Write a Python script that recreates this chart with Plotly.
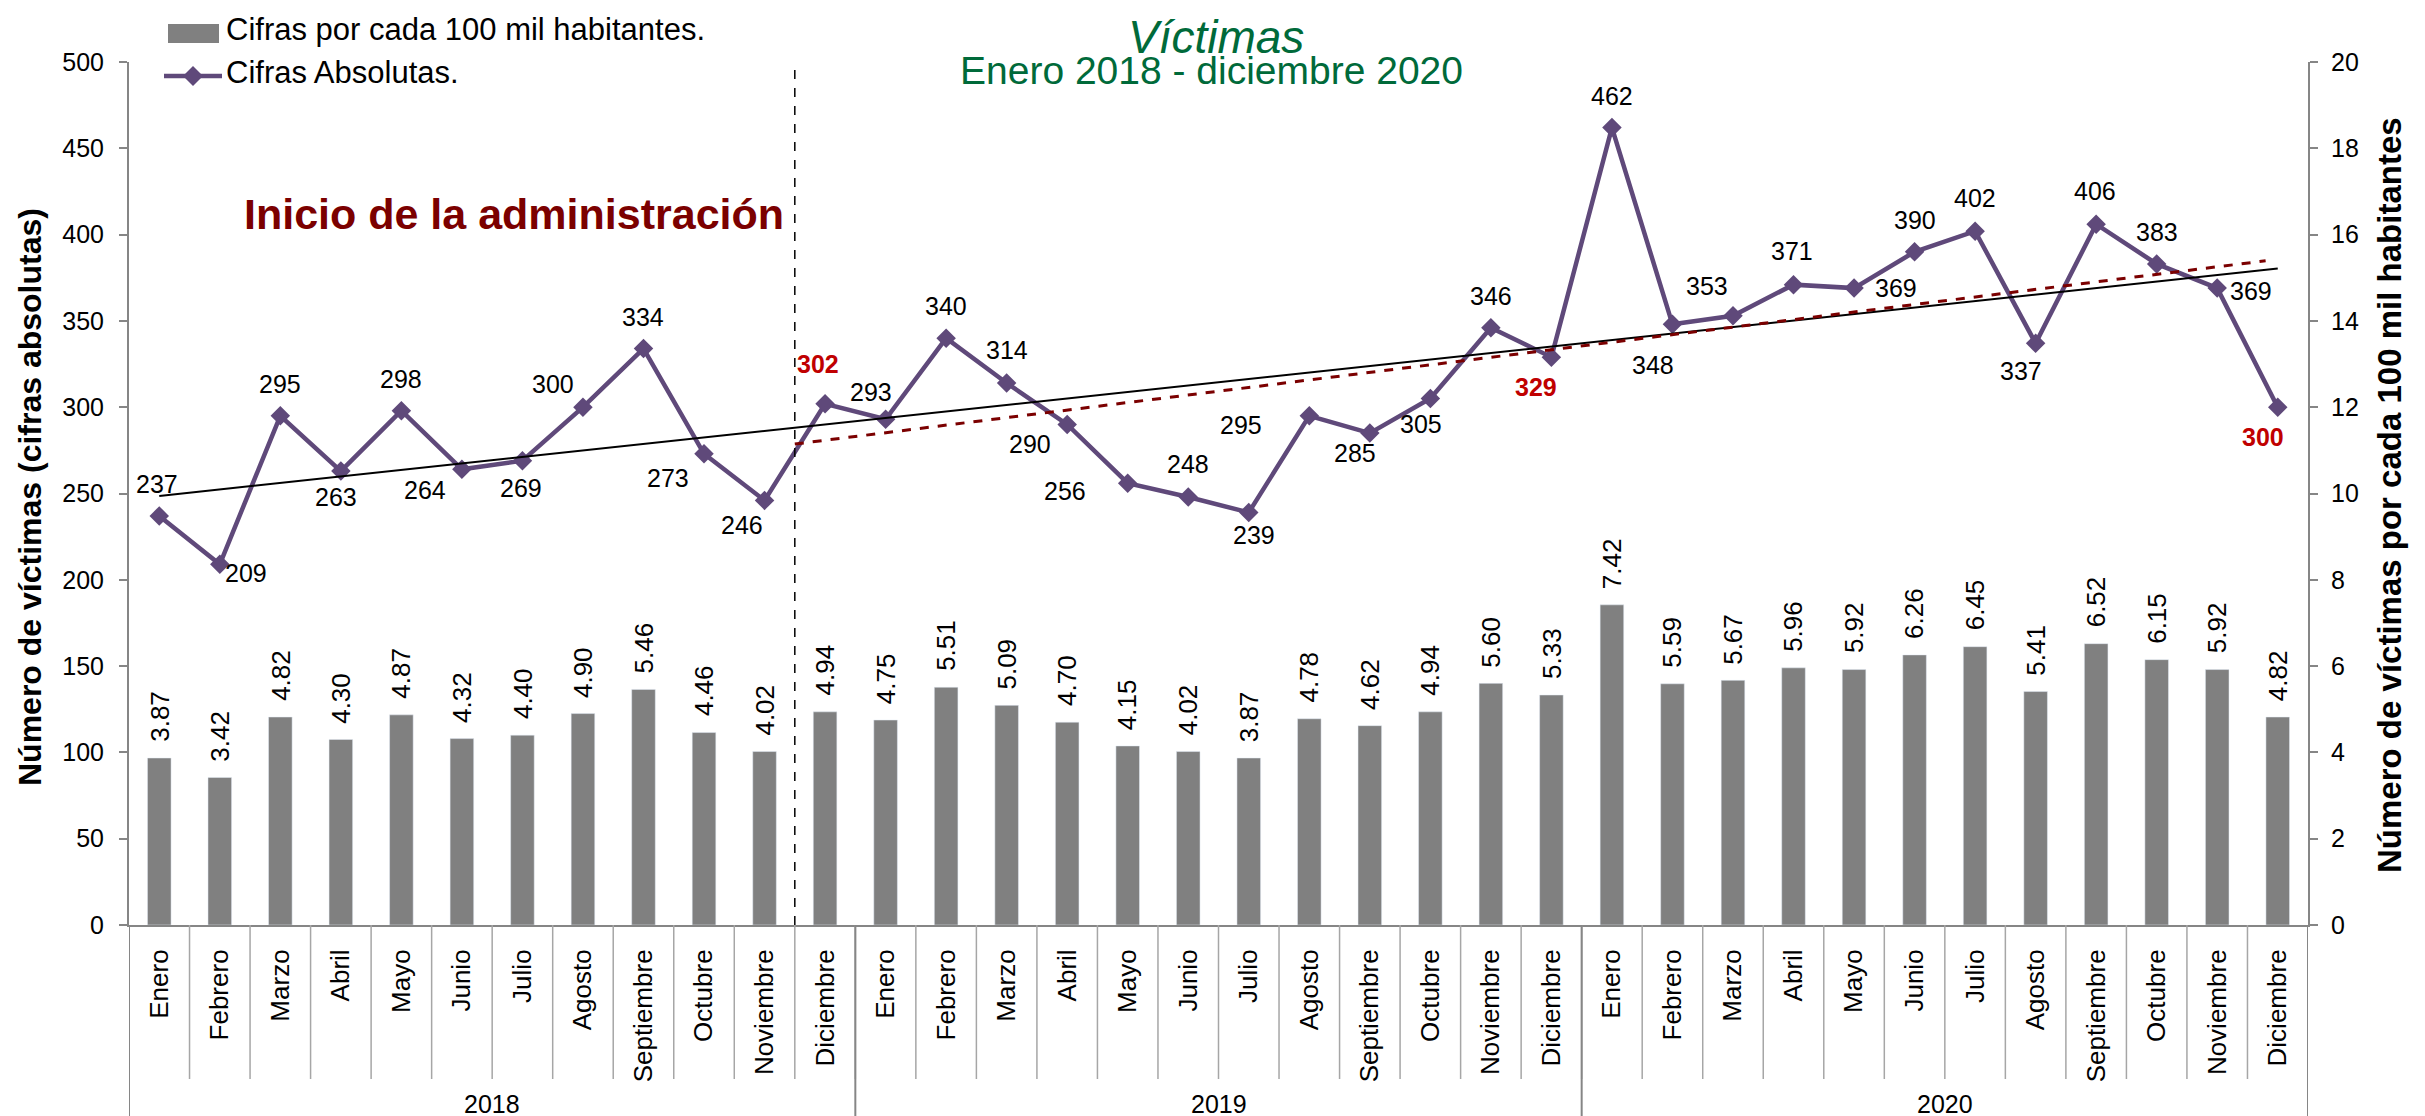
import numpy as np
import plotly.graph_objects as go

# ---------------- data ----------------
years = ["2018", "2019", "2020"]
months = ["Enero", "Febrero", "Marzo", "Abril", "Mayo", "Junio", "Julio",
          "Agosto", "Septiembre", "Octubre", "Noviembre", "Diciembre"]
absolutas_2018 = [237, 209, 295, 263, 298, 264, 269, 300, 334, 273, 246, 302]
absolutas_2019 = [293, 340, 314, 290, 256, 248, 239, 295, 285, 305, 346, 329]
absolutas_2020 = [462, 348, 353, 371, 369, 390, 402, 337, 406, 383, 369, 300]
tasa_2018 = [3.87, 3.42, 4.82, 4.30, 4.87, 4.32, 4.40, 4.90, 5.46, 4.46, 4.02, 4.94]
tasa_2019 = [4.75, 5.51, 5.09, 4.70, 4.15, 4.02, 3.87, 4.78, 4.62, 4.94, 5.60, 5.33]
tasa_2020 = [7.42, 5.59, 5.67, 5.96, 5.92, 6.26, 6.45, 5.41, 6.52, 6.15, 5.92, 4.82]
inicio_admin_idx = 11          # Diciembre 2018
highlight_idx = [11, 23, 35]   # values shown in red bold

absolutas = absolutas_2018 + absolutas_2019 + absolutas_2020
tasa = tasa_2018 + tasa_2019 + tasa_2020
month_labels = months * len(years)
n = len(absolutas)
idx = np.arange(n)

# label offsets (style, px): (dx, dy) with dy positive = downward
label_off = [(-2, -32), (26, 9), (0, -32), (-5, 26), (0, -32), (-37, 21), (-1, 27),
             (-30, -23), (0, -32), (-36, 24), (-23, 25), (-7, -40), (-15, -27),
             (0, -32), (0, -33), (-37, 20), (-63, 8), (0, -33), (5, 23), (-68, 9),
             (-15, 20), (-9, 25), (0, -32), (-15, 30), (0, -32), (-19, 41),
             (-26, -30), (-2, -34), (42, 0), (0, -32), (0, -33), (-15, 28),
             (-1, -33), (0, -32), (34, 3), (-15, 30)]

# ---------------- style ----------------
W, H = 2425, 1116
ML, MR, MT, MB = 121, 125, 54, 199
PW = W - ML - MR
PH = H - MT - MB
FONT = "Liberation Sans, Arial, sans-serif"
PURPLE = "#5F497A"
GRAY = "#808080"
AXIS = "#868686"
SEP = "#A6A6A6"
GREEN = "#006A3A"
DARKRED = "#7B0000"
RED = "#C00000"


def px(x_from_left):
    return (x_from_left - ML) / PW


def py(y_from_top):
    return (H - MB - y_from_top) / PH


fig = go.Figure()

fig.add_trace(go.Bar(
    x=idx, y=tasa, yaxis="y2", width=0.39, marker_color=GRAY,
    name="Cifras por cada 100 mil habitantes.", hoverinfo="skip", showlegend=False))

fig.add_trace(go.Scatter(
    x=idx, y=absolutas, mode="lines+markers", name="Cifras Absolutas.",
    line=dict(color=PURPLE, width=4.5),
    marker=dict(symbol="diamond", size=15, color=PURPLE), hoverinfo="skip",
    showlegend=False))

# trend lines (least squares through the data)
p_all = np.polyfit(idx, absolutas, 1)
tx = np.array([idx[0], idx[-1]], dtype=float)
fig.add_trace(go.Scatter(x=tx, y=np.polyval(p_all, tx), mode="lines",
                         line=dict(color="black", width=2), showlegend=False,
                         hoverinfo="skip"))
sub_x = idx[inicio_admin_idx:]
sub_y = np.array(absolutas[inicio_admin_idx:])
p_sub = np.polyfit(sub_x, sub_y, 1)
tx2 = np.array([inicio_admin_idx - 0.5, idx[-1] - 0.2], dtype=float)
fig.add_trace(go.Scatter(x=tx2, y=np.polyval(p_sub, tx2), mode="lines",
                         line=dict(color=DARKRED, width=3, dash="dash"),
                         showlegend=False, hoverinfo="skip"))

annotations = []
# line labels
for i, v in enumerate(absolutas):
    dx, dy = label_off[i]
    red = i in highlight_idx
    annotations.append(dict(
        x=i, y=v, xref="x", yref="y", text=(f"<b>{v}</b>" if red else str(v)),
        showarrow=False, xshift=dx, yshift=-dy, xanchor="center", yanchor="middle",
        font=dict(family=FONT, size=25, color=RED if red else "black")))
# bar labels
for i, v in enumerate(tasa):
    annotations.append(dict(
        x=i, y=v, xref="x", yref="y2", text=f"{v:.2f}", textangle=-90,
        showarrow=False, xanchor="center", yanchor="bottom", yshift=14,
        font=dict(family=FONT, size=26, color="black")))
# year labels
for k, yr in enumerate(years):
    annotations.append(dict(
        x=float(np.mean(idx[k * 12:(k + 1) * 12])), y=py(1096), xref="x", yref="paper",
        text=yr, showarrow=False, xanchor="center", yanchor="middle",
        font=dict(family=FONT, size=25, color="black")))
# titles and notes
annotations += [
    dict(x=px(1208), y=py(29), xref="paper", yref="paper",
         text="<i>Víctimas</i>", showarrow=False, xanchor="center", yanchor="middle",
         font=dict(family=FONT, size=46, color=GREEN)),
    dict(x=px(1203), y=py(63), xref="paper", yref="paper",
         text="Enero 2018 - diciembre 2020", showarrow=False, xanchor="center",
         yanchor="middle", font=dict(family=FONT, size=39, color=GREEN)),
    dict(x=px(506), y=py(206), xref="paper", yref="paper",
         text="<b>Inicio de la administración</b>", showarrow=False,
         xanchor="center", yanchor="middle",
         font=dict(family=FONT, size=43, color=DARKRED)),
    # axis titles
    dict(x=px(22), y=py(489), xref="paper", yref="paper", textangle=-90,
         text="<b>Número de víctimas (cifras absolutas)</b>", showarrow=False,
         xanchor="center", yanchor="middle",
         font=dict(family=FONT, size=32, color="black")),
    dict(x=px(2381), y=py(487), xref="paper", yref="paper", textangle=-90,
         text="<b>Número de víctimas por cada 100 mil habitantes</b>", showarrow=False,
         xanchor="center", yanchor="middle",
         font=dict(family=FONT, size=33, color="black")),
    # legend texts
    dict(x=px(216), y=py(21), xref="paper", yref="paper",
         text="Cifras por cada 100 mil habitantes.", showarrow=False,
         xanchor="left", yanchor="middle",
         font=dict(family=FONT, size=31, color="black")),
    dict(x=px(216), y=py(64), xref="paper", yref="paper",
         text="Cifras Absolutas.", showarrow=False,
         xanchor="left", yanchor="middle",
         font=dict(family=FONT, size=31, color="black")),
]

shapes = []
# legend box and symbols
shapes.append(dict(type="rect", xref="paper", yref="paper", x0=px(153), x1=px(730),
                   y0=py(4), y1=py(88), fillcolor="white", line=dict(width=0),
                   layer="above"))
shapes.append(dict(type="rect", xref="paper", yref="paper", x0=px(160), x1=px(211),
                   y0=py(16), y1=py(35), fillcolor=GRAY, line=dict(width=0)))
shapes.append(dict(type="line", xref="paper", yref="paper", x0=px(156), x1=px(214),
                   y0=py(68), y1=py(68), line=dict(color=PURPLE, width=4.5)))
cx, cy, hw, hh = 185, 68, 10, 10
shapes.append(dict(type="path", xref="paper", yref="paper",
                   path=(f"M {px(cx - hw)},{py(cy)} L {px(cx)},{py(cy - hh)} "
                         f"L {px(cx + hw)},{py(cy)} L {px(cx)},{py(cy + hh)} Z"),
                   fillcolor=PURPLE, line=dict(width=0)))
# month separators
for b in np.arange(-0.5, n, 1.0):
    shapes.append(dict(type="line", xref="x", yref="paper", x0=b, x1=b,
                       y0=0, y1=py(1071), line=dict(color=SEP, width=1.5)))
# year separators
for k in range(len(years) + 1):
    b = k * 12 - 0.5
    shapes.append(dict(type="line", xref="x", yref="paper", x0=b, x1=b,
                       y0=0, y1=py(H), line=dict(color=AXIS, width=2)))
# start of administration
shapes.append(dict(type="line", xref="x", yref="paper",
                   x0=inicio_admin_idx - 0.5, x1=inicio_admin_idx - 0.5,
                   y0=0, y1=py(57), line=dict(color="black", width=1.5, dash="dash")))

fig.update_layout(
    width=W, height=H, autosize=False,
    margin=dict(l=ML, r=MR, t=MT, b=MB, pad=0),
    paper_bgcolor="white", plot_bgcolor="rgba(0,0,0,0)",
    font=dict(family=FONT, color="black"),
    barmode="overlay",
    showlegend=False,
    xaxis=dict(range=[-0.5, n - 0.5], tickmode="array", tickvals=idx.tolist(),
               ticktext=month_labels, tickangle=-90, ticks="", showgrid=False,
               zeroline=False, showline=True, linecolor=AXIS, linewidth=2,
               tickfont=dict(family=FONT, size=26, color="black"),
               ticklabelstandoff=12),
    yaxis=dict(range=[0, 500], dtick=50, showgrid=False, zeroline=False,
               showline=True, linecolor=AXIS, linewidth=2, ticks="outside",
               ticklen=8, tickcolor=AXIS, tickwidth=2,
               tickfont=dict(family=FONT, size=25, color="black"),
               ticklabelstandoff=10),
    yaxis2=dict(range=[0, 20], dtick=2, overlaying="y", side="right",
                showgrid=False, zeroline=False, showline=True, linecolor=AXIS,
                linewidth=2, ticks="outside", ticklen=8, tickcolor=AXIS, tickwidth=2,
                tickfont=dict(family=FONT, size=25, color="black"),
                ticklabelstandoff=8),
    annotations=annotations,
    shapes=shapes,
)

fig.write_html("out.html")
